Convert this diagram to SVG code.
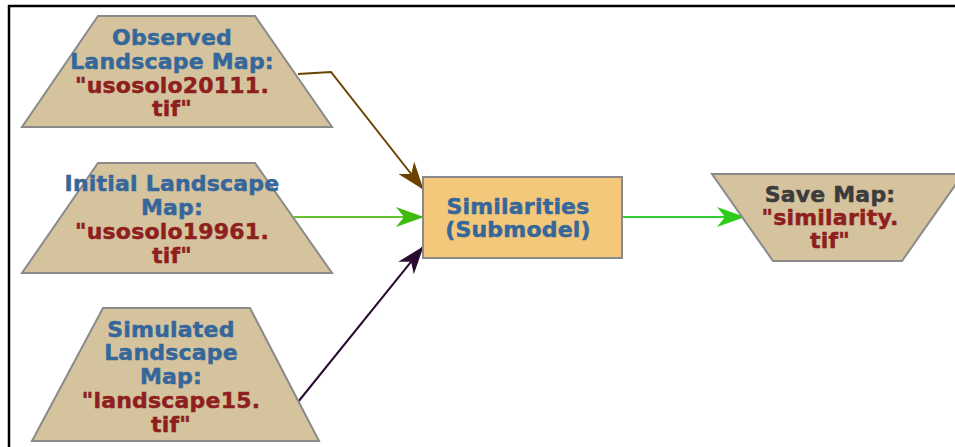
<svg xmlns="http://www.w3.org/2000/svg" width="955" height="447" viewBox="0 0 955 447">
  <style>
    .io { fill: #d5c39d; stroke: #8a8a8a; stroke-width: 2; }
    .proc { fill: #f4c87a; stroke: #8a8a8a; stroke-width: 2; }
    text { font-family: "DejaVu Sans", Verdana, sans-serif; font-weight: bold; font-size: 22px; letter-spacing: 0.2px; text-anchor: middle; stroke-width: 0.5; }
    .lbl { fill: #35679a; stroke: #35679a; }
    .val { fill: #8e1f1f; stroke: #8e1f1f; }
    .out { fill: #3c3c3c; stroke: #3c3c3c; }
    .edge { fill: none; stroke-width: 2; }
  </style>
  <defs>
    <!-- swept arrowheads, one per connector colour -->
    <path id="head" d="M0,0 L28,10 L0,20 L8,10 Z"/>
    <marker id="arrow-brown" markerUnits="userSpaceOnUse" markerWidth="30" markerHeight="22" refX="27" refY="10" orient="auto">
      <use href="#head" fill="#6b4300"/>
    </marker>
    <marker id="arrow-green" markerUnits="userSpaceOnUse" markerWidth="30" markerHeight="22" refX="27" refY="10" orient="auto">
      <use href="#head" fill="#3fbb10"/>
    </marker>
    <marker id="arrow-purple" markerUnits="userSpaceOnUse" markerWidth="30" markerHeight="22" refX="27" refY="10" orient="auto">
      <use href="#head" fill="#2a0a30"/>
    </marker>
    <marker id="arrow-bright" markerUnits="userSpaceOnUse" markerWidth="30" markerHeight="22" refX="27" refY="10" orient="auto">
      <use href="#head" fill="#2ecc1a"/>
    </marker>
  </defs>

  <rect width="955" height="447" fill="#ffffff"/>
  <!-- frame -->
  <path d="M9,447 V6 H955" fill="none" stroke="#000" stroke-width="2.5"/>

  <g id="connectors">
    <polyline class="edge" stroke="#6b4300" points="298,74 331,72 423,189" marker-end="url(#arrow-brown)"/>
    <line class="edge" stroke="#66c030" x1="294" y1="217" x2="423" y2="217" marker-end="url(#arrow-green)"/>
    <line class="edge" stroke="#2a0a30" x1="298" y1="402" x2="423" y2="247" marker-end="url(#arrow-purple)"/>
    <line class="edge" stroke="#33cc33" x1="622" y1="217" x2="744" y2="217" marker-end="url(#arrow-bright)"/>
  </g>

  <g id="observed-map">
    <polygon class="io" points="98,16 255,16 332,127 22,127"/>
    <text x="172" y="45" class="lbl">Observed</text>
    <text x="172" y="69" class="lbl">Landscape Map:</text>
    <text x="172" y="93" class="val">"usosolo20111.</text>
    <text x="172" y="116" class="val">tif"</text>
  </g>

  <g id="initial-map">
    <polygon class="io" points="98,163 255,163 332,273 22,273"/>
    <text x="172" y="191" class="lbl">Initial Landscape</text>
    <text x="172" y="215" class="lbl">Map:</text>
    <text x="172" y="239" class="val">"usosolo19961.</text>
    <text x="172" y="263" class="val">tif"</text>
  </g>

  <g id="simulated-map">
    <polygon class="io" points="103,308 250,308 319,441 32,441"/>
    <text x="171" y="337" class="lbl">Simulated</text>
    <text x="171" y="360" class="lbl">Landscape</text>
    <text x="171" y="384" class="lbl">Map:</text>
    <text x="171" y="408" class="val">"landscape15.</text>
    <text x="171" y="432" class="val">tif"</text>
  </g>

  <g id="similarities">
    <rect class="proc" x="423" y="177" width="199" height="81"/>
    <text x="518" y="214" class="lbl">Similarities</text>
    <text x="518" y="237" class="lbl">(Submodel)</text>
  </g>

  <g id="save-map">
    <polygon class="io" points="712,174 963,174 902,261 773,261"/>
    <text x="830" y="202" class="out">Save Map:</text>
    <text x="830" y="225" class="val">"similarity.</text>
    <text x="830" y="248" class="val">tif"</text>
  </g>
</svg>
